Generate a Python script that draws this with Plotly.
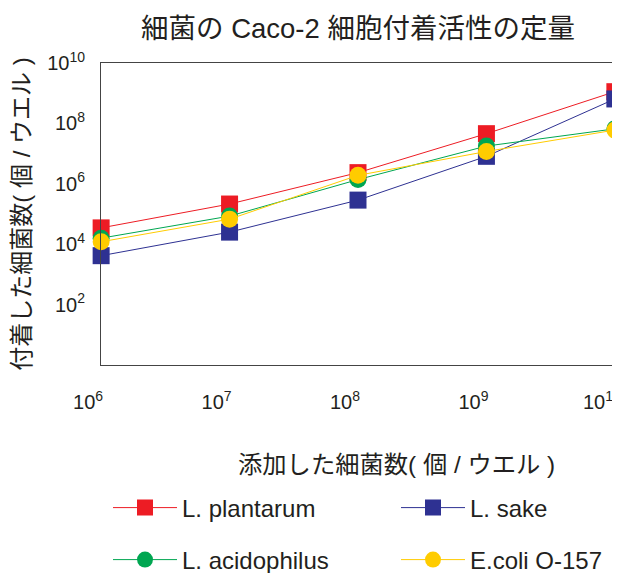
import plotly.graph_objects as go

# Data (log10 values)
x_added = [1e6, 1e7, 1e8, 1e9, 1e10]
series_names = ["L. plantarum", "L. sake", "L. acidophilus", "E.coli O-157"]
plantarum_log = [4.54, 5.33, 6.37, 7.66, 9.05]
sake_log = [3.62, 4.40, 5.46, 6.91, 8.81]
acidophilus_log = [4.20, 4.93, 6.14, 7.25, 7.82]
ecoli_log = [4.08, 4.83, 6.28, 7.07, 7.78]
y_tick_vals = [1e2, 1e4, 1e6, 1e8, 1e10]
y_tick_text = ["10<sup>2</sup>", "10<sup>4</sup>", "10<sup>6</sup>", "10<sup>8</sup>", "10<sup>10</sup>"]
x_tick_vals = [1e6, 1e7, 1e8, 1e9, 1e10]
x_tick_text = ["10<sup>6</sup>", "10<sup>7</sup>", "10<sup>8</sup>", "10<sup>9</sup>", "10<sup>10</sup>"]

colors = ["#ED1C24", "#2E3192", "#00A651", "#FFCC00"]
symbols = ["square", "square", "circle", "circle"]
legend_ids = ["legend", "legend2", "legend3", "legend4"]
all_logs = [plantarum_log, sake_log, acidophilus_log, ecoli_log]

FONT = "Liberation Sans, Noto Sans CJK JP, sans-serif"
TXT = "#231F20"
W, H = 620, 573

fig = go.Figure()
for name, logs, c, s, lg in zip(series_names, all_logs, colors, symbols, legend_ids):
    fig.add_trace(go.Scatter(
        x=x_added, y=[10 ** v for v in logs], name=name, mode="lines+markers",
        line=dict(color=c, width=1),
        marker=dict(symbol=s, size=17, color=c, line=dict(width=0)),
        cliponaxis=False, legend=lg,
    ))

# legend anchor positions in figure pixels (left, vertical middle)
legend_px = {"legend": (100, 500), "legend2": (388, 500),
             "legend3": (100, 552), "legend4": (388, 552)}
legend_layout = {}
for key, (px, py) in legend_px.items():
    legend_layout[key] = dict(orientation="h", xref="container", yref="container",
                              x=px / W, xanchor="left", y=1 - py / H, yanchor="middle",
                              itemwidth=64, font=dict(size=24, family=FONT, color=TXT),
                              bgcolor="rgba(0,0,0,0)")

fig.update_layout(
    width=W, height=H,
    margin=dict(l=93, r=13, t=55, b=216, autoexpand=False),
    paper_bgcolor="white", plot_bgcolor="white",
    font=dict(family=FONT, color=TXT, size=20),
    title=dict(text="細菌の Caco-2 細胞付着活性の定量", x=350 / W, xanchor="center",
               y=1 - 20 / H, yanchor="middle", font=dict(size=27.5, family=FONT, color=TXT)),
    showlegend=True,
    annotations=[dict(text="添加した細菌数( 個 / ウエル )", xref="paper", yref="paper",
                      x=0.574, y=-0.331, xanchor="center", yanchor="middle", showarrow=False,
                      font=dict(size=24.3, family=FONT, color=TXT))],
    **legend_layout,
)
fig.update_xaxes(type="log", range=[5.999, 10.001], tickvals=x_tick_vals, ticktext=x_tick_text,
                 showgrid=False, zeroline=False, showline=True, mirror=True, linecolor="#444",
                 linewidth=1, ticks="outside", ticklen=19, tickcolor="rgba(0,0,0,0)",
                 tickfont=dict(size=20), ticklabelshift=-13, automargin=False)
fig.update_yaxes(type="log", range=[0, 10], tickvals=y_tick_vals, ticktext=y_tick_text,
                 showgrid=False, zeroline=False, showline=True, mirror=True, linecolor="#444",
                 linewidth=1, ticks="outside", ticklen=11, tickcolor="rgba(0,0,0,0)",
                 tickfont=dict(size=20), automargin=False,
                 title=dict(text="付着した細菌数( 個 / ウエル )", font=dict(size=24), standoff=10))

fig.write_html("out.html")
